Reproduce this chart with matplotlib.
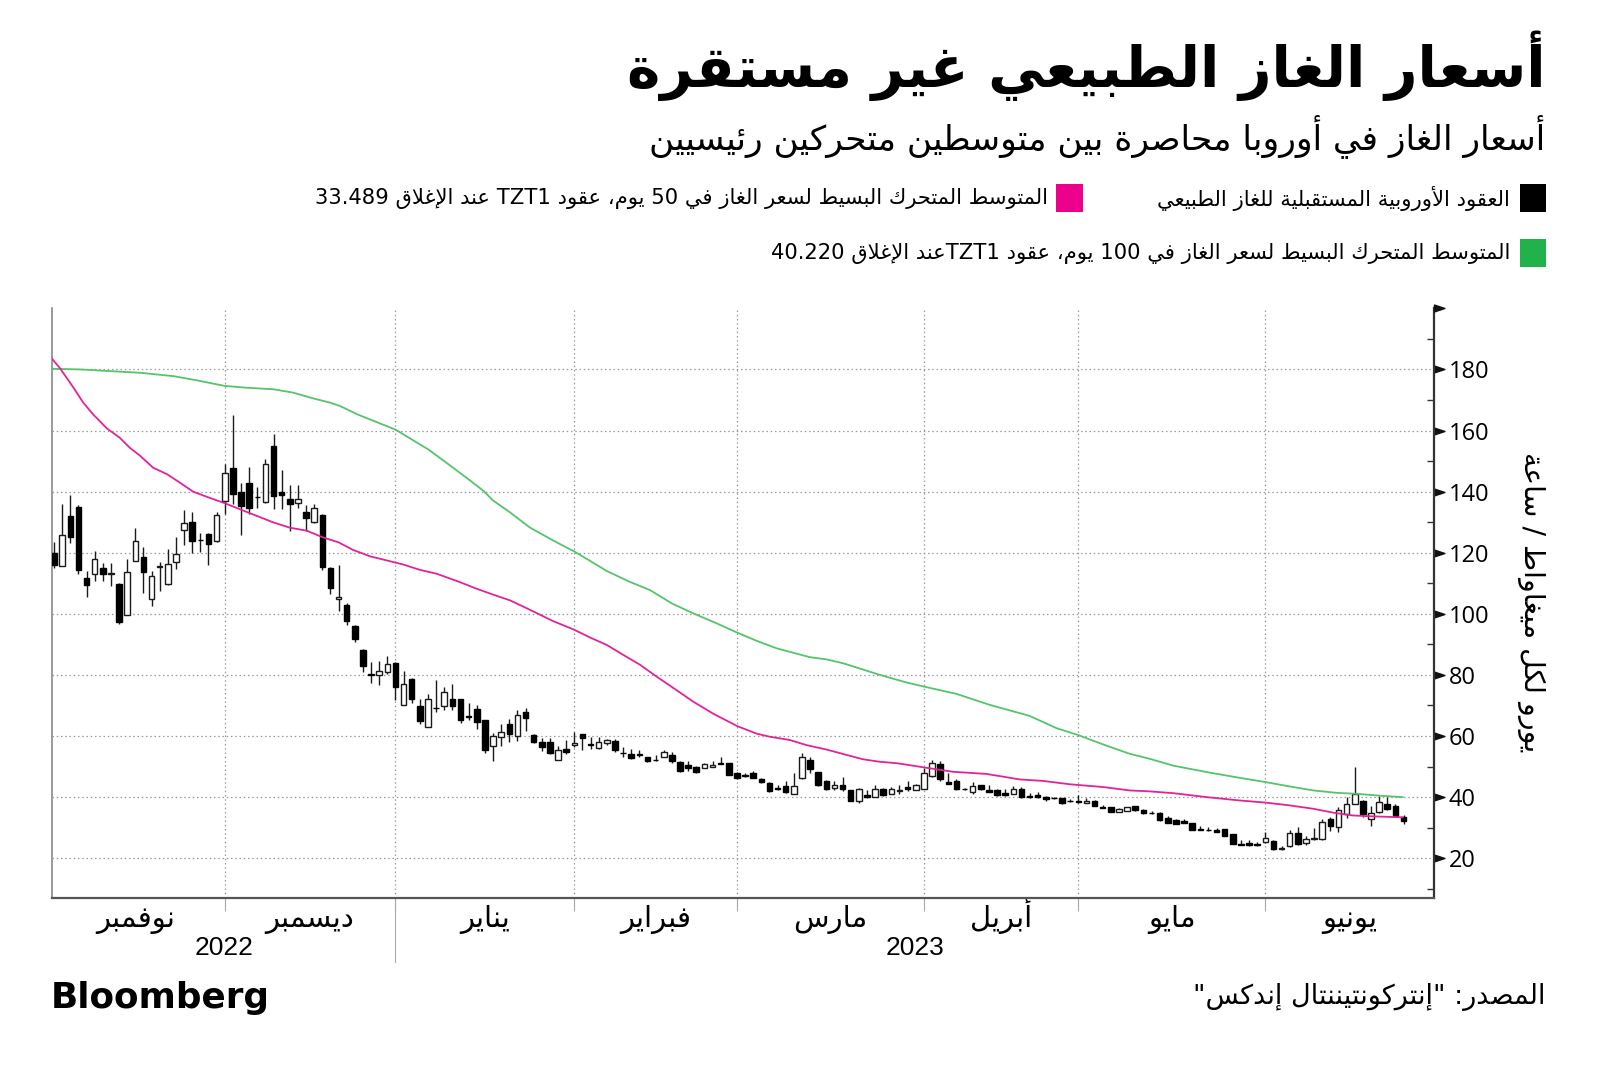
import re
import numpy as np
import matplotlib
matplotlib.use('Agg')
import matplotlib.pyplot as plt
import matplotlib.transforms as mtransforms
from matplotlib.path import Path
from matplotlib.patches import Rectangle

# ---------------- data ----------------
TITLE = "أسعار الغاز الطبيعي غير مستقرة"
SUBTITLE = "أسعار الغاز في أوروبا محاصرة بين متوسطين متحركين رئيسيين"
LEG_CANDLE = "العقود الأوروبية المستقبلية للغاز الطبيعي"
LEG_MA50 = "المتوسط المتحرك البسيط لسعر الغاز في 50 يوم، عقود TZT1 عند الإغلاق 33.489"
LEG_MA100 = "المتوسط المتحرك البسيط لسعر الغاز في 100 يوم، عقود TZT1عند الإغلاق 40.220"
YLABEL = "يورو لكل ميغاواط / ساعة"
SOURCE = 'المصدر: "إنتركونتيننتال إندكس"'
BRAND = "Bloomberg"
MONTHS = ["نوفمبر", "ديسمبر", "يناير", "فبراير", "مارس", "أبريل", "مايو", "يونيو"]
MONTH_START = [21, 42, 64, 84, 107, 126, 149]   # trading-day index of first day of Dec..Jun
YEARS = ["2022", "2023"]
YTICKS = [20, 40, 60, 80, 100, 120, 140, 160, 180]

opens = [120, 115.7, 132.1, 134.9, 111.8, 113.0, 115.0, 113.1, 109.8, 99.7,
         117.4, 118.7, 104.8, 115.2, 109.7, 117.1, 127.4, 129.9, 124.2, 126.1,
         123.7, 136.8, 147.6, 140.0, 142.7, 138.3, 136.6, 155.0, 140.0, 137.7,
         136.2, 133.2, 129.9, 132.4, 115.0, 104.8, 103.0, 95.9, 88.3, 80.2,
         80.1, 81.0, 84.0, 70.3, 78.8, 69.8, 63.0, 69.3, 69.8, 72.0,
         72.0, 66.6, 69.0, 65.2, 56.8, 59.7, 63.9, 60.0, 67.9, 60.3,
         57.9, 57.9, 52.3, 55.6, 57.0, 60.6, 57.5, 56.1, 57.6, 58.3,
         54.5, 54.2, 54.0, 53.1, 52.2, 53.1, 53.9, 51.4, 50.6, 50.0,
         49.4, 49.8, 51.1, 51.3, 48.0, 47.2, 48.0, 45.8, 44.7, 42.9,
         43.7, 40.9, 46.3, 52.0, 48.3, 45.2, 43.0, 44.1, 42.2, 38.7,
         40.8, 40.0, 42.8, 40.9, 42.1, 43.3, 42.4, 42.8, 46.9, 50.8,
         45.0, 45.2, 42.8, 41.7, 44.1, 42.4, 42.4, 41.3, 41.1, 42.8,
         40.4, 40.6, 40.2, 39.7, 39.7, 38.7, 38.9, 38.0, 38.9, 36.8,
         36.7, 35.3, 35.6, 37.0, 35.8, 34.8, 34.9, 33.2, 32.4, 32.1,
         31.5, 29.5, 29.2, 29.1, 29.5, 27.8, 24.5, 25.1, 24.5, 25.3,
         25.7, 22.9, 23.9, 28.3, 25.0, 26.4, 26.2, 32.7, 30.2, 34.6,
         37.8, 38.7, 32.7, 35.1, 37.6, 37.1, 33.5]

highs = [123.6, 136.1, 138.9, 135.5, 113.9, 120.6, 116.8, 116.5, 110.2, 117.9,
         128.0, 121.9, 114.1, 117.1, 121.2, 125.2, 133.9, 133.2, 126.3, 126.3,
         133.2, 149.2, 165.1, 142.7, 148.1, 141.5, 150.6, 159.0, 147.0, 142.1,
         142.1, 135.7, 136.1, 132.6, 115.2, 116.1, 103.5, 96.2, 88.6, 84.1,
         84.4, 86.1, 84.2, 81.3, 79.0, 72.0, 73.7, 78.2, 76.1, 76.9,
         72.2, 70.8, 70.0, 65.4, 61.1, 63.9, 65.5, 68.4, 69.2, 60.8,
         59.5, 59.5, 56.7, 58.8, 61.3, 60.8, 59.6, 59.7, 59.1, 58.9,
         56.4, 55.8, 55.3, 53.2, 53.9, 55.3, 54.7, 51.7, 51.9, 50.2,
         51.3, 51.7, 53.1, 51.3, 48.3, 47.8, 48.7, 46.4, 45.0, 43.9,
         45.2, 47.8, 54.4, 53.3, 48.3, 45.6, 45.2, 46.7, 42.4, 43.1,
         42.2, 44.1, 43.1, 43.3, 43.9, 45.3, 44.4, 49.4, 52.0, 51.7,
         48.0, 45.8, 43.0, 45.0, 44.1, 43.9, 42.7, 42.8, 43.6, 43.3,
         41.3, 41.7, 40.4, 40.2, 39.7, 39.4, 40.6, 39.8, 39.1, 37.4,
         36.9, 36.4, 36.9, 37.2, 36.0, 35.4, 35.1, 33.7, 32.9, 32.9,
         31.5, 30.7, 30.2, 30.0, 29.7, 27.8, 25.9, 25.9, 25.3, 28.6,
         25.9, 23.9, 29.1, 30.2, 27.2, 29.9, 32.9, 33.5, 36.7, 40.0,
         49.8, 39.1, 37.0, 40.5, 40.2, 37.8, 34.0]

lows = [115.0, 115.7, 123.1, 113.0, 105.6, 110.6, 110.6, 109.0, 96.7, 99.5,
        117.2, 106.8, 102.7, 107.6, 109.5, 114.6, 122.6, 119.8, 120.4, 116.1,
        123.5, 132.6, 136.1, 125.8, 132.8, 134.6, 136.4, 134.2, 134.2, 127.0,
        134.6, 127.2, 129.7, 114.3, 106.5, 100.8, 96.5, 90.8, 81.0, 77.4,
        76.6, 80.4, 71.7, 70.1, 70.8, 64.1, 62.8, 67.9, 68.4, 68.4,
        64.3, 65.4, 62.4, 54.5, 51.9, 56.7, 58.1, 58.4, 61.7, 57.8,
        55.1, 54.1, 52.1, 54.1, 56.4, 55.4, 55.6, 55.9, 57.2, 54.8,
        53.1, 52.4, 53.3, 51.6, 51.9, 53.1, 51.3, 48.3, 48.7, 48.0,
        49.4, 49.8, 50.9, 47.1, 46.1, 46.7, 46.3, 44.7, 41.7, 42.2,
        41.4, 40.9, 45.9, 48.0, 43.7, 42.2, 42.4, 41.9, 38.7, 38.0,
        39.8, 40.0, 40.3, 40.9, 41.1, 41.9, 42.4, 42.8, 46.7, 45.3,
        44.2, 42.4, 42.5, 41.1, 42.4, 41.6, 40.4, 40.4, 41.1, 39.7,
        39.8, 39.8, 38.9, 39.4, 37.8, 38.3, 38.1, 38.0, 37.0, 36.4,
        35.2, 35.3, 35.6, 35.6, 34.4, 34.6, 32.2, 31.5, 31.1, 31.5,
        29.1, 29.2, 29.0, 28.6, 27.2, 24.6, 24.2, 23.9, 24.1, 25.0,
        22.8, 22.6, 23.7, 24.2, 24.5, 25.9, 25.9, 28.8, 28.6, 33.3,
        37.6, 33.5, 30.4, 34.9, 35.9, 33.5, 31.3]

closes = [116.0, 125.8, 125.3, 114.3, 109.6, 118.1, 112.9, 113.4, 97.4, 113.8,
          123.9, 113.7, 112.4, 115.6, 116.3, 119.5, 129.6, 123.7, 124.1, 123.0,
          132.4, 146.2, 139.1, 135.4, 134.6, 138.1, 149.2, 138.7, 139.0, 136.1,
          137.5, 131.4, 134.8, 115.2, 108.4, 105.6, 97.6, 91.9, 82.8, 80.0,
          81.2, 83.7, 76.1, 76.9, 72.0, 64.9, 72.2, 69.1, 74.4, 69.7,
          65.4, 66.3, 64.6, 55.4, 59.9, 61.3, 60.6, 66.8, 65.8, 58.1,
          56.4, 54.5, 55.4, 54.9, 57.7, 59.4, 57.0, 57.9, 58.6, 55.3,
          54.3, 52.7, 53.8, 51.7, 52.1, 54.8, 51.7, 48.7, 49.4, 48.3,
          50.8, 50.6, 51.0, 47.2, 46.3, 46.8, 46.4, 44.8, 41.9, 42.8,
          41.7, 43.6, 53.1, 49.2, 43.9, 42.6, 44.1, 42.6, 38.9, 42.8,
          40.0, 42.8, 40.6, 42.6, 42.3, 42.8, 43.9, 47.8, 51.3, 46.1,
          44.4, 42.6, 42.7, 43.7, 42.7, 41.8, 40.6, 40.7, 42.6, 40.0,
          40.2, 40.0, 39.4, 39.6, 38.1, 38.6, 38.3, 38.9, 37.2, 36.6,
          35.3, 36.1, 36.7, 35.8, 34.7, 34.7, 32.4, 31.6, 31.3, 31.6,
          29.1, 29.4, 29.1, 28.7, 27.4, 24.8, 24.4, 24.2, 24.4, 26.7,
          22.9, 23.5, 28.3, 24.6, 26.4, 26.5, 31.8, 30.5, 35.9, 37.8,
          40.9, 34.6, 34.8, 38.4, 36.2, 33.8, 32.2]

ma50_x = [-0.25, 0.7, 2.4, 3.6, 4.8, 6.5, 8.1, 9.3, 10.6, 12.2, 13.9, 15.5, 17.1, 18.8,
          21.0, 22.9, 24.9, 27.0, 29.0, 31.1, 33.1, 35.0, 36.8, 38.9, 40.9, 43.0, 45.0,
          47.1, 49.9, 52.0, 54.0, 56.1, 57.7, 59.4, 61.4, 63.9, 65.9, 68.0, 70.0, 72.1,
          74.1, 76.2, 78.6, 81.1, 84.0, 86.4, 88.0, 90.5, 92.6, 95.0, 97.1, 99.5, 101.5,
          103.7, 107.1, 110.6, 114.7, 118.8, 121.7, 125.0, 129.1, 132.3, 134.7, 137.7,
          141.8, 145.9, 149.1, 152.0, 154.9, 157.4, 159.8, 162.3, 165.9]
ma50_y = [183.5, 180.5, 174.0, 169.1, 165.3, 160.7, 157.6, 154.4, 151.7, 147.8, 145.7,
          142.9, 140.0, 138.3, 136.2, 134.2, 132.1, 129.9, 128.2, 127.2, 125.0, 123.4,
          120.9, 118.8, 117.5, 116.1, 114.4, 113.1, 110.4, 108.2, 106.3, 104.4, 102.4,
          100.2, 97.6, 94.9, 92.3, 89.8, 86.6, 83.3, 79.5, 75.7, 71.3, 67.3, 63.3, 60.8,
          59.8, 58.7, 57.0, 55.6, 54.1, 52.4, 51.6, 51.1, 49.7, 48.3, 47.6, 45.8, 45.3,
          44.2, 43.3, 42.2, 41.9, 41.3, 40.0, 38.9, 38.2, 37.3, 36.2, 34.9, 34.0, 33.7,
          33.4]

ma100_x = [-0.25, 3.2, 6.5, 10.6, 14.7, 17.6, 21.0, 23.7, 27.0, 29.4, 31.9, 34.0, 35.2,
           37.3, 42.0, 46.1, 49.0, 51.2, 52.8, 54.0, 56.1, 58.5, 61.4, 64.0, 65.9, 68.0,
           70.8, 73.3, 76.0, 78.6, 81.5, 84.0, 86.4, 88.9, 93.0, 95.0, 97.1, 101.6, 104.9,
           107.0, 111.0, 115.1, 120.0, 123.3, 126.0, 129.1, 132.3, 134.7, 137.7, 141.8,
           145.9, 149.1, 152.0, 154.9, 157.8, 160.2, 163.0, 165.9]
ma100_y = [180.2, 180.0, 179.5, 178.9, 177.8, 176.4, 174.6, 174.0, 173.5, 172.4, 170.5,
           169.1, 168.0, 165.3, 160.3, 153.7, 148.0, 143.6, 140.3, 137.1, 133.2, 128.3,
           124.0, 120.4, 117.4, 114.0, 110.5, 107.8, 103.4, 100.2, 96.9, 93.9, 91.2, 88.7,
           85.8, 85.1, 83.8, 80.0, 77.5, 76.2, 73.8, 70.2, 66.6, 62.6, 60.3, 57.2, 54.2,
           52.6, 50.3, 48.2, 46.3, 44.9, 43.5, 42.2, 41.4, 41.1, 40.5, 40.0]

# ---------------- Arabic shaping helpers ----------------
FOUR = {0x0626: 0xFE89, 0x0628: 0xFE8F, 0x062A: 0xFE95, 0x062B: 0xFE99, 0x062C: 0xFE9D,
        0x062D: 0xFEA1, 0x062E: 0xFEA5, 0x0633: 0xFEB1, 0x0634: 0xFEB5, 0x0635: 0xFEB9,
        0x0636: 0xFEBD, 0x0637: 0xFEC1, 0x0638: 0xFEC5, 0x0639: 0xFEC9, 0x063A: 0xFECD,
        0x0641: 0xFED1, 0x0642: 0xFED5, 0x0643: 0xFED9, 0x0644: 0xFEDD, 0x0645: 0xFEE1,
        0x0646: 0xFEE5, 0x0647: 0xFEE9, 0x064A: 0xFEF1}
TWO = {0x0622: 0xFE81, 0x0623: 0xFE83, 0x0624: 0xFE85, 0x0625: 0xFE87, 0x0627: 0xFE8D,
       0x0629: 0xFE93, 0x062F: 0xFEA9, 0x0630: 0xFEAB, 0x0631: 0xFEAD, 0x0632: 0xFEAF,
       0x0648: 0xFEED, 0x0649: 0xFEEF}
LAMALEF = {0x0622: 0xFEF5, 0x0623: 0xFEF7, 0x0625: 0xFEF9, 0x0627: 0xFEFB}


def shape(s):
    cps = [ord(ch) for ch in s]
    out = []
    i, n = 0, len(cps)
    while i < n:
        c = cps[i]
        prev_dual = i > 0 and cps[i - 1] in FOUR
        if c == 0x0644 and i + 1 < n and cps[i + 1] in LAMALEF:
            out.append(chr(LAMALEF[cps[i + 1]] + (1 if prev_dual else 0)))
            i += 2
            continue
        if c in FOUR:
            nxt = i + 1 < n and (cps[i + 1] in FOUR or cps[i + 1] in TWO)
            form = (3 if nxt else 1) if prev_dual else (2 if nxt else 0)
            out.append(chr(FOUR[c] + form))
        elif c in TWO:
            out.append(chr(TWO[c] + (1 if prev_dual else 0)))
        else:
            out.append(chr(c))
        i += 1
    return ''.join(out)


def ar(s):
    sh = shape(s)
    parts = re.findall(r'[A-Za-z0-9][A-Za-z0-9.]*[A-Za-z0-9]|[A-Za-z0-9]|[^A-Za-z0-9]+', sh)
    res = []
    for p in reversed(parts):
        res.append(p if re.match(r'[A-Za-z0-9]', p) else p[::-1])
    return ''.join(res)


# ---------------- figure ----------------
AR_FONT = 'DejaVu Sans'
NUM_FONT = 'Open Sans'
MAG_LINE, MAG_BOX = '#e0249a', '#ec008c'
GRN_LINE, GRN_BOX = '#55c46a', '#22b24c'

fig = plt.figure(figsize=(16, 10.78), dpi=100)
fig.patch.set_facecolor('white')
ax = fig.add_axes([0.0325, 0.167, 0.8635, 0.547])

o = np.array(opens); h = np.array(highs); l = np.array(lows); c = np.array(closes)
x = np.arange(len(o))
up = c >= o
body = np.maximum(np.abs(c - o), 0.12)
bottom = np.minimum(o, c)

ax.vlines(x, l, h, color='#1a1a1a', lw=1.0, zorder=3)
ax.bar(x[up], body[up], bottom=bottom[up], width=0.68, facecolor='white',
       edgecolor='#1a1a1a', lw=1.0, zorder=4)
ax.bar(x[~up], body[~up], bottom=bottom[~up], width=0.68, facecolor='black',
       edgecolor='black', lw=1.0, zorder=4)

ax.plot(ma100_x, ma100_y, color=GRN_LINE, lw=1.3, zorder=5)
ax.plot(ma50_x, ma50_y, color=MAG_LINE, lw=1.3, zorder=5)

XLIM = (-0.25, 169.7)
ax.set_xlim(*XLIM)
ax.set_ylim(7, 200)

# grid
for yv in YTICKS:
    ax.axhline(yv, color='#9a9a9a', lw=0.9, ls=(0, (1.2, 2.2)), zorder=1)
for xv in MONTH_START:
    ax.axvline(xv, color='#9a9a9a', lw=0.9, ls=(0, (1.2, 2.2)), zorder=1)

# spines
ax.spines['top'].set_visible(False)
ax.spines['left'].set_color('#8a8a8a')
ax.spines['left'].set_linewidth(1.2)
ax.spines['bottom'].set_color('#555555')
ax.spines['bottom'].set_linewidth(1.6)
ax.spines['right'].set_color('#333333')
ax.spines['right'].set_linewidth(1.6)

# x ticks
bounds = [-1] + MONTH_START + [XLIM[1]]
centers = [(bounds[i] + bounds[i + 1]) / 2 for i in range(len(MONTHS))]
ax.set_xticks(MONTH_START)
ax.set_xticklabels([])
ax.set_xticks(centers, minor=True)
ax.set_xticklabels([ar(m) for m in MONTHS], minor=True, fontfamily=AR_FONT, fontsize=21,
                   va='baseline')
ax.tick_params(axis='x', which='major', length=9, width=0.8, color='#aaaaaa', direction='out')
ax.tick_params(axis='x', which='minor', length=0, pad=21)

# y ticks (right)
ax.yaxis.tick_right()
ax.set_yticks(YTICKS)
ax.set_yticklabels([str(v) for v in YTICKS], fontfamily=NUM_FONT, fontsize=17)
ax.set_yticks(np.arange(10, 200, 10), minor=True)
ax.tick_params(axis='y', which='minor', right=True, left=False, direction='in', length=5,
               width=1.0, color='#333333')
ax.tick_params(axis='y', which='major', right=True, left=False, direction='in', length=15,
               width=1.0, color='#111111', pad=11)
tri = Path([(0, -0.33), (1, 0), (0, 0.33), (0, -0.33)],
           [Path.MOVETO, Path.LINETO, Path.LINETO, Path.CLOSEPOLY])
for t in ax.yaxis.get_major_ticks():
    t.tick2line.set_marker(tri)
    t.tick2line.set_markerfacecolor('#111111')
    t.tick2line.set_markeredgecolor('#111111')
    t.tick2line.set_markersize(15)
ax.plot([1], [1], marker=tri, markersize=15, color='#111111', transform=ax.transAxes,
        clip_on=False, zorder=10)

# year labels and separator
btr = mtransforms.blended_transform_factory(ax.transData, ax.transAxes)
sep = MONTH_START[1]
ax.plot([sep, sep], [0, -0.108], transform=btr, clip_on=False, color='#aaaaaa', lw=0.8)
year_pos = [(XLIM[0] + sep) / 2, (sep + XLIM[1]) / 2]
for yp, yl in zip(year_pos, YEARS):
    ax.text(yp, -0.085, yl, transform=btr, ha='center', va='center', fontsize=19,
            fontfamily='Liberation Sans')

# texts
t_title = fig.text(0.966, 0.939, ar(TITLE), ha='right', va='center', fontsize=44,
                   fontweight='bold', fontfamily=AR_FONT)
t_sub = fig.text(0.966, 0.874, ar(SUBTITLE), ha='right', va='center', fontsize=26,
                 fontfamily=AR_FONT)
t_l1 = fig.text(1510 / 1600, 0.8163, ar(LEG_CANDLE), ha='right', va='center', fontsize=15,
                fontfamily=AR_FONT)
t_l2 = fig.text(1048 / 1600, 0.8163, ar(LEG_MA50), ha='right', va='center', fontsize=15,
                fontfamily=AR_FONT)
t_l3 = fig.text(1510 / 1600, 0.7644, ar(LEG_MA100), ha='right', va='center', fontsize=15,
                fontfamily=AR_FONT)
fig.patches.append(Rectangle((1520 / 1600, 1 - 212 / 1078), 26 / 1600, 28 / 1078,
                             transform=fig.transFigure, facecolor='black', edgecolor='none'))
fig.patches.append(Rectangle((1056 / 1600, 1 - 212 / 1078), 27 / 1600, 28 / 1078,
                             transform=fig.transFigure, facecolor=MAG_BOX, edgecolor='none'))
fig.patches.append(Rectangle((1520 / 1600, 1 - 267 / 1078), 26 / 1600, 28 / 1078,
                             transform=fig.transFigure, facecolor=GRN_BOX, edgecolor='none'))

t_y = fig.text(0.957, 0.4415, ar(YLABEL), ha='center', va='center', rotation=270,
               fontsize=18, fontfamily=AR_FONT)
t_src = fig.text(0.966, 0.0755, ar(SOURCE), ha='right', va='center', fontsize=18,
                 fontfamily=AR_FONT)
t_brand = fig.text(51 / 1600, 0.074, BRAND, ha='left', va='center', fontsize=30,
                   fontweight='heavy', fontfamily='DejaVu Sans')

# fit text widths to the reference
fig.canvas.draw()
r = fig.canvas.get_renderer()


def fit(t, w, vertical=False):
    bb = t.get_window_extent(renderer=r)
    cur = bb.height if vertical else bb.width
    t.set_fontsize(t.get_fontsize() * w / cur)


fit(t_title, 918)
fit(t_sub, 898)
fit(t_l2, 737)
for t in (t_l1, t_l3):
    t.set_fontsize(t_l2.get_fontsize())
fit(t_src, 352)
fit(t_brand, 219)
fit(t_y, 301, vertical=True)

fig.savefig('out.png', dpi=100, facecolor='white')
